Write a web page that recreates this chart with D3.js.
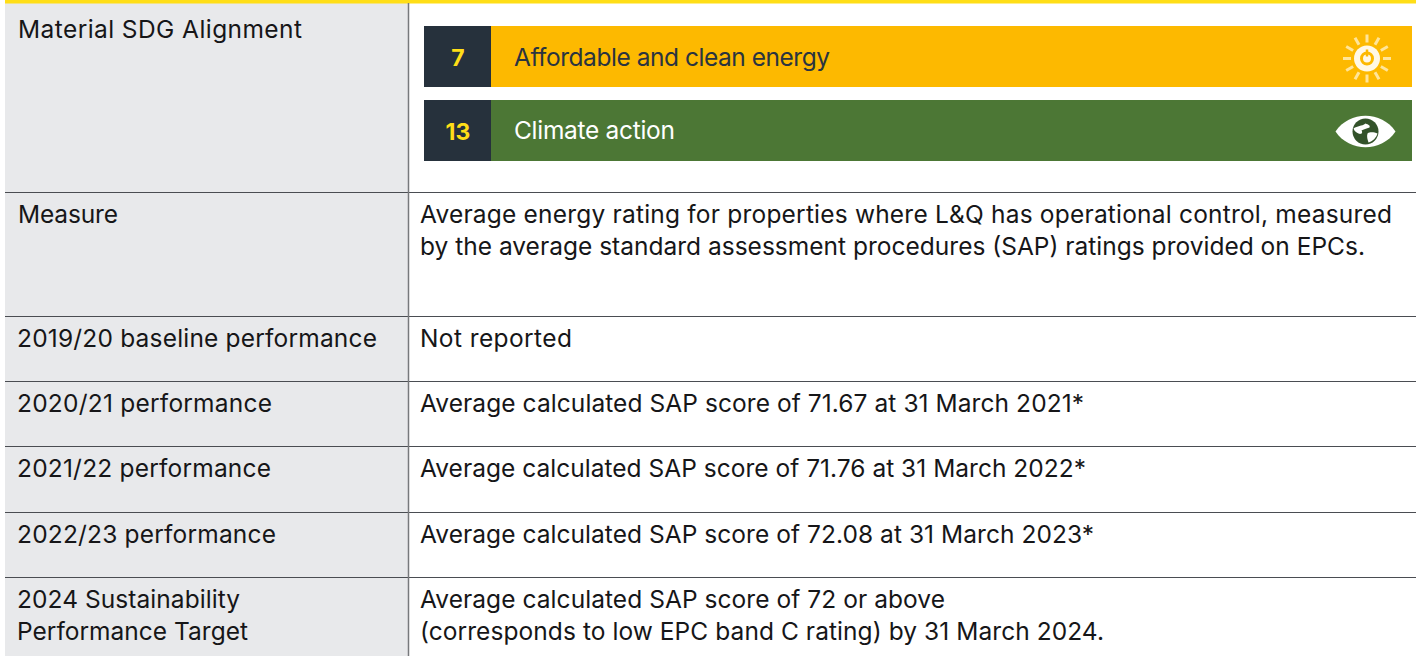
<!DOCTYPE html>
<html>
<head>
<meta charset="utf-8">
<script src="https://cdn.jsdelivr.net/npm/d3@7"></script>
<style>
  html, body { margin: 0; padding: 0; background: #fff; }
  text { font-family: "Inter", sans-serif; font-size: 24.5px; fill: #161618; }
</style>
</head>
<body>
<script>
'use strict';

const rowLabels = [
    ["Material SDG Alignment"],
    ["Measure"],
    ["2019/20 baseline performance"],
    ["2020/21 performance"],
    ["2021/22 performance"],
    ["2022/23 performance"],
    ["2024 Sustainability", "Performance Target"]
];
const rowTexts = [
    [],
    ["Average energy rating for properties where L&Q has operational control, measured",
     "by the average standard assessment procedures (SAP) ratings provided on EPCs."],
    ["Not reported"],
    ["Average calculated SAP score of 71.67 at 31 March 2021*"],
    ["Average calculated SAP score of 71.76 at 31 March 2022*"],
    ["Average calculated SAP score of 72.08 at 31 March 2023*"],
    ["Average calculated SAP score of 72 or above",
     "(corresponds to low EPC band C rating) by 31 March 2024."]
];
const sdgNumbers = ["7", "13"];
const sdgNames = ["Affordable and clean energy", "Climate action"];
const sdgColors = ["#fdb900", "#4c7735"];
const sdgTextColors = ["#2a3440", "#ffffff"];

// layout
const rowEdges = [3, 192, 316, 381, 446, 512, 577, 656];
const labelWidths = [[284], [100], [360], [255], [254], [259], [223, 231]];
const textWidths = [[], [972, 945], [152], [664], [666], [674], [525, 684]];
const sdgNameWidths = [316, 161];

const svg = d3.select("body").append("svg")
    .attr("width", 1416)
    .attr("height", 656)
    .style("display", "block");

// left column, rules, top bar
svg.append("rect").attr("x", 5).attr("y", 3).attr("width", 403).attr("height", 653).attr("fill", "#e8e9eb");
svg.append("rect").attr("x", 5).attr("y", 0).attr("width", 1411).attr("height", 3.5).attr("fill", "#ffde17");

svg.selectAll(".rule")
    .data(rowEdges.slice(1, -1))
    .enter().append("line")
    .attr("class", "rule")
    .attr("x1", 5).attr("x2", 1416)
    .attr("y1", d => d + 0.5).attr("y2", d => d + 0.5)
    .attr("stroke", "#4a4d52").attr("stroke-width", 1);

svg.append("line")
    .attr("x1", 408.5).attr("x2", 408.5)
    .attr("y1", 3).attr("y2", 656)
    .attr("stroke", "#77797c").attr("stroke-width", 1.5);

// table text
const rows = svg.selectAll(".row")
    .data(rowLabels)
    .enter().append("g")
    .attr("class", "row")
    .attr("transform", (d, i) => "translate(0," + rowEdges[i] + ")");

rows.each(function(labels, i) {
    const g = d3.select(this);
    const top = i === 0 ? 35 : 31;
    g.selectAll(".lab").data(labels).enter().append("text")
        .attr("class", "lab")
        .attr("x", i === 0 || i === 1 ? 18 : 17)
        .attr("y", (d, k) => top + k * 32)
        .attr("textLength", (d, k) => labelWidths[i][k])
        .attr("lengthAdjust", "spacing")
        .text(d => d);
    g.selectAll(".val").data(rowTexts[i]).enter().append("text")
        .attr("class", "val")
        .attr("x", 420)
        .attr("y", (d, k) => top + k * 32)
        .attr("textLength", (d, k) => textWidths[i][k])
        .attr("lengthAdjust", "spacing")
        .text(d => d);
});

// SDG bars
const sdgY = d3.scaleOrdinal().domain(sdgNumbers).range([26, 100]);
const sdg = svg.selectAll(".sdg")
    .data(sdgNumbers)
    .enter().append("g")
    .attr("class", "sdg")
    .attr("transform", d => "translate(0," + sdgY(d) + ")");

sdg.append("rect").attr("x", 424).attr("width", 67).attr("height", 61).attr("fill", "#26313c");
sdg.append("rect").attr("x", 491).attr("width", 921).attr("height", 61).attr("fill", (d, i) => sdgColors[i]);
sdg.append("text")
    .attr("x", 458).attr("y", 40)
    .attr("text-anchor", "middle")
    .style("font-weight", 700).style("font-size", "23px").style("fill", "#ffde17")
    .text(d => d);
sdg.append("text")
    .attr("x", 514).attr("y", (d, i) => i === 0 ? 40 : 39)
    .attr("textLength", (d, i) => sdgNameWidths[i])
    .attr("lengthAdjust", "spacing")
    .style("fill", (d, i) => sdgTextColors[i])
    .text((d, i) => sdgNames[i]);

// sun icon
const sun = svg.append("g").attr("transform", "translate(1367,58.5)");
sun.selectAll(".ray")
    .data(d3.range(12))
    .enter().append("line")
    .attr("x1", 0).attr("x2", 0).attr("y1", -16).attr("y2", -24)
    .attr("transform", d => "rotate(" + (d * 30) + ")")
    .attr("stroke", "#ffe59a").attr("stroke-width", 3);
sun.append("circle").attr("r", 13).attr("fill", "#fff8e6");
sun.append("circle").attr("r", 5.5).attr("fill", "none").attr("stroke", "#fdb900").attr("stroke-width", 3);
sun.append("line").attr("y1", -9).attr("y2", -2).attr("stroke", "#fdb900").attr("stroke-width", 2.5);

// eye icon
const eye = svg.append("g").attr("transform", "translate(1365.5,131.5)");
eye.append("path")
    .attr("d", "M-30,0 C-16,-21 16,-21 30,0 C16,21 -16,21 -30,0 Z")
    .attr("fill", "#ffffff");
eye.append("circle").attr("r", 13).attr("fill", "#33522a");
eye.append("path")
    .attr("d", "M-12,-3 C-8,-6 -4,-5 0,-8 C3,-7 5,-6 4,-4 C1,-3 -2,-2 -4,-1 C-2,2 -5,3 -7,2 C-9,1 -11,0 -12,-3 Z M2,2 C5,0 9,1 12,2 C11,6 7,10 3,11 C2,8 1,5 2,2 Z")
    .attr("fill", "#ffffff");
</script>
</body>
</html>
